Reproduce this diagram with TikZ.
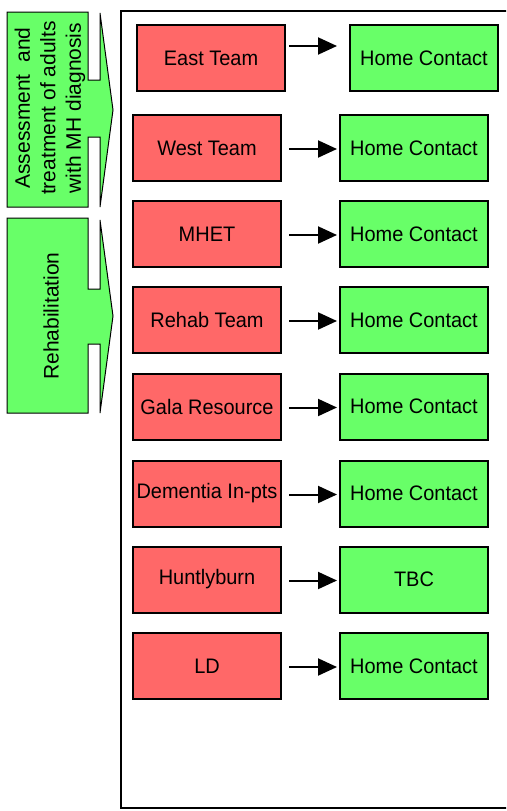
\documentclass[tikz,border=0pt]{standalone}
\usepackage{fontspec}
\setmainfont{Liberation Sans}
\newfontfamily\boxfont[FakeStretch=0.95]{Liberation Sans}
\newfontfamily\sidefont{Liberation Sans}
\usetikzlibrary{arrows.meta,positioning}
\definecolor{redfill}{RGB}{255,104,104}
\definecolor{greenfill}{RGB}{104,255,104}
\tikzset{
  teambox/.style={draw=black, line width=2pt, fill=redfill, minimum width=148pt,
    minimum height=66pt, inner sep=0pt, font=\boxfont\fontsize{21}{24}\selectfont},
  contactbox/.style={draw=black, line width=2pt, fill=greenfill, minimum width=148pt,
    minimum height=66pt, inner sep=0pt, font=\boxfont\fontsize{21}{24}\selectfont},
  link/.style={line width=2pt, -{Triangle[length=19pt,width=17pt]}},
  sidearrow/.style={draw=black, line width=1pt, fill=greenfill},
  sidetext/.style={rotate=90, align=center, inner sep=0pt,
    font=\sidefont\fontsize{21}{25.5}\selectfont}
}
\begin{document}
\begin{tikzpicture}[x=1pt,y=-1pt]
\useasboundingbox (0,0) rectangle (506,811);
\clip (0,0) rectangle (506,811);

% service column frame, running past the right edge
\draw[line width=2pt] (121,11) rectangle (540,808);

% left-hand arrow callouts
\draw[sidearrow] (7,12) -- (88,12) -- (88,80) -- (100,80) -- (100,13) -- (113,110)
  -- (100,207) -- (100,137) -- (88,137) -- (88,207) -- (7,207) -- cycle;
\node[sidetext] (assess) at (50,108) {Assessment\ \ and\\treatment of adults\\with MH diagnosis};

\draw[sidearrow] (7,218) -- (88,218) -- (88,289) -- (100,289) -- (100,220) -- (113,316)
  -- (100,413) -- (100,344) -- (88,344) -- (88,413) -- (7,413) -- cycle;
\node[sidetext] (rehabside) at (51,316) {Rehabilitation};

% teams and their contacts
\node[teambox] (east) at (211,58) {East Team};
\node[contactbox] (eastc) at (424,58) {Home Contact};
\draw[link] ([xshift=3pt,yshift=12pt]east.east) -- ([xshift=-12pt,yshift=12pt]eastc.west);

\node[teambox] (west) at (207,148) {West Team};
\node[contactbox] (westc) at (414,148) {Home Contact};

\node[teambox] (mhet) at (207,234) {MHET};
\node[contactbox] (mhetc) at (414,234) {Home Contact};

\node[teambox] (rehab) at (207,320) {Rehab Team};
\node[contactbox] (rehabc) at (414,320) {Home Contact};

\node[teambox] (gala) at (207,406.5) {Gala Resource};
\node[contactbox] (galac) at (414,406.5) {Home Contact};

\node[teambox] (dem) at (207,493.5) {Dementia In-pts};
\node[contactbox] (demc) at (414,493.5) {Home Contact};

\node[teambox] (hunt) at (207,579.5) {Huntlyburn};
\node[contactbox] (huntc) at (414,579.5) {TBC};

\node[teambox] (ld) at (207,666) {LD};
\node[contactbox] (ldc) at (414,666) {Home Contact};

\foreach \a/\b in {west/westc, mhet/mhetc, rehab/rehabc, gala/galac, dem/demc, hunt/huntc, ld/ldc}
  \draw[link] ([xshift=7pt,yshift=-1pt]\a.east) -- ([xshift=-2pt,yshift=-1pt]\b.west);
\end{tikzpicture}
\end{document}
